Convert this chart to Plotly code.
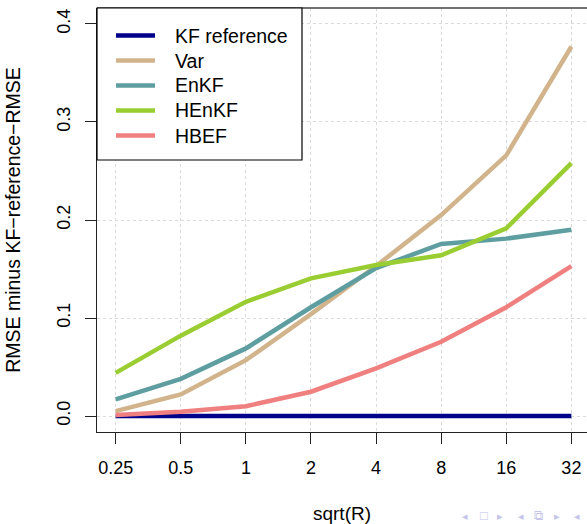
import plotly.graph_objects as go

x_labels = ["0.25", "0.5", "1", "2", "4", "8", "16", "32"]
x_idx = list(range(len(x_labels)))

kf_reference = [0, 0, 0, 0, 0, 0, 0, 0]
var = [0.005, 0.022, 0.057, 0.104, 0.153, 0.205, 0.266, 0.377]
enkf = [0.017, 0.038, 0.069, 0.111, 0.151, 0.1755, 0.181, 0.190]
henkf = [0.044, 0.082, 0.1165, 0.1405, 0.154, 0.164, 0.1915, 0.258]
hbef = [0.001, 0.0044, 0.010, 0.0248, 0.0487, 0.0758, 0.111, 0.153]

series_names = ["KF reference", "Var", "EnKF", "HEnKF", "HBEF"]
series_values = [kf_reference, var, enkf, henkf, hbef]
series_colors = ["#00008B", "#D2B48C", "#5F9EA0", "#9ACD32", "#F08080"]

y_ticks = [0.0, 0.1, 0.2, 0.3, 0.4]
y_ticktext = ["0.0", "0.1", "0.2", "0.3", "0.4"]

fig = go.Figure()
for name, vals, col in zip(series_names, series_values, series_colors):
    fig.add_trace(go.Scatter(x=x_idx, y=vals, mode="lines", name=name,
                             line=dict(color=col, width=4.5)))

font_family = "Liberation Sans, Arial, sans-serif"

# plot area in pixels
L, T, W, H = 97, 8, 490, 424


def px(xp):
    return (xp - L) / W


def py(yp):
    return (T + H - yp) / H


fig.update_layout(
    width=587, height=524,
    margin=dict(l=L, r=587 - L - W, t=T, b=524 - T - H, autoexpand=False),
    plot_bgcolor="white", paper_bgcolor="white",
    font=dict(family=font_family, color="black", size=18),
    showlegend=False,
    xaxis=dict(range=[-0.287, 7.24], tickvals=x_idx, ticktext=x_labels,
               showline=True, linecolor="#222", linewidth=1,
               ticks="outside", ticklen=11, tickcolor="#222",
               showgrid=True, gridcolor="#dadada", griddash="dot", gridwidth=1,
               zeroline=False, tickfont=dict(size=18), automargin=False,
               ticklabelstandoff=8,
               title=dict(text="sqrt(R)", font=dict(size=19), standoff=30)),
    yaxis=dict(range=[-0.0163, 0.4163], tickvals=y_ticks, ticktext=y_ticktext,
               showline=True, linecolor="#222", linewidth=1,
               ticks="outside", ticklen=11, tickcolor="#222",
               showgrid=True, gridcolor="#dadada", griddash="dot", gridwidth=1,
               zeroline=False, tickangle=-90, tickfont=dict(size=18), automargin=False,
               ticklabelstandoff=8,
               title=dict(text="RMSE minus KF\u2212reference\u2212RMSE", font=dict(size=19.5), standoff=27)),
)

# top frame line
fig.add_shape(type="line", xref="paper", yref="paper", x0=0, x1=1, y0=1, y1=1,
              line=dict(color="#444", width=1.5))

# legend box and entries
fig.add_shape(type="rect", xref="paper", yref="paper",
              x0=0, x1=px(302), y0=py(160), y1=1,
              line=dict(color="black", width=1.2), fillcolor="white", layer="above")
for i, (name, col) in enumerate(zip(series_names, series_colors)):
    yrow = 35.5 + 25.0 * i
    fig.add_shape(type="line", xref="paper", yref="paper",
                  x0=px(116), x1=px(155), y0=py(yrow), y1=py(yrow),
                  line=dict(color=col, width=4.5), layer="above")
    fig.add_annotation(text=name, xref="paper", yref="paper", x=px(173), y=py(yrow),
                       xanchor="left", yanchor="middle", showarrow=False,
                       font=dict(size=19.5, color="black"))

# beamer navigation symbols
nav = [("\u25c2", 465, 11), ("\u25a1", 484, 13), ("\u25b8", 500, 11), ("\u25c2", 521, 11),
       ("\u29c9", 538, 13), ("\u25b8", 557, 11), ("\u25c2", 577, 11)]
for sym, xc, fs in nav:
    fig.add_annotation(text=sym, xref="paper", yref="paper", x=px(xc), y=py(515.5),
                       xanchor="center", yanchor="middle", showarrow=False, borderpad=0,
                       font=dict(size=fs, color="#c5c5e8"))

fig.write_html("out.html", config={"displayModeBar": False},
               post_script="document.body.style.margin='0';document.body.style.overflow='hidden';")
